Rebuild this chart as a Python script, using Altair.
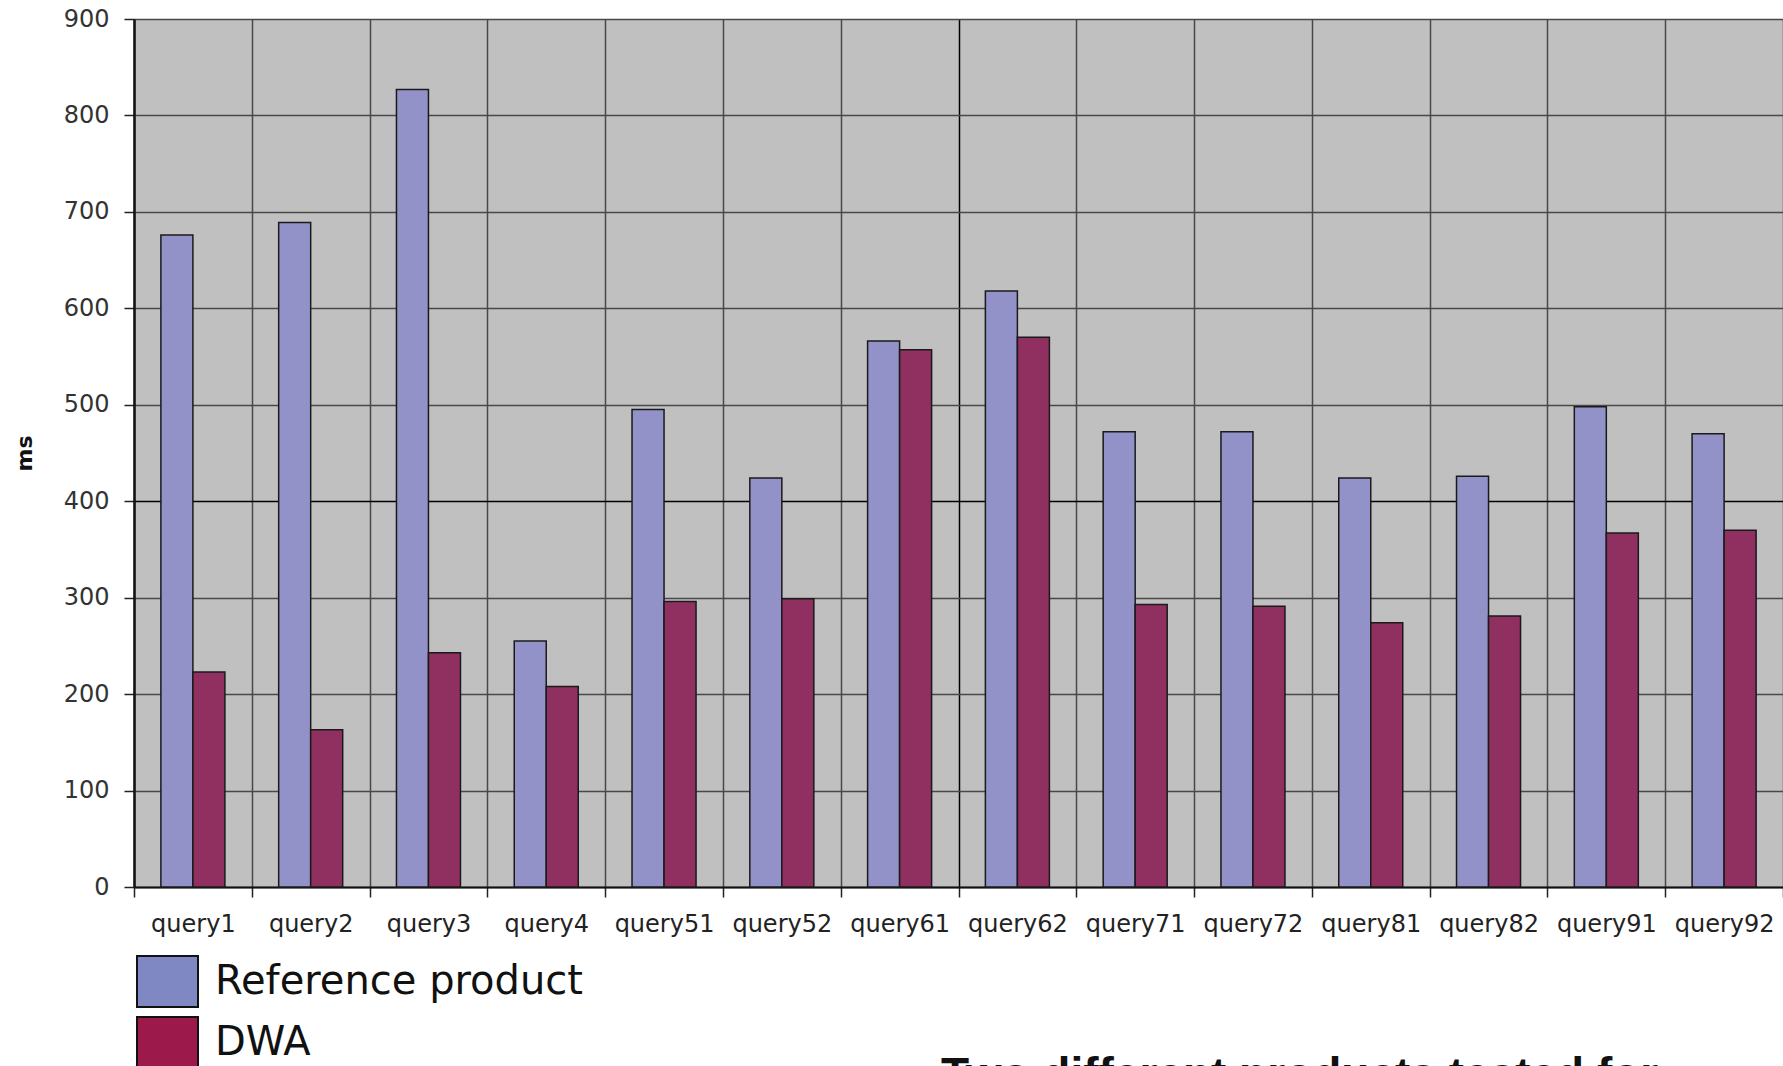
import altair as alt
import pandas as pd

queries = ["query1", "query2", "query3", "query4", "query51", "query52", "query61",
           "query62", "query71", "query72", "query81", "query82", "query91", "query92"]
reference_product = [676, 689, 827, 255, 495, 424, 566, 618, 472, 472, 424, 426, 498, 470]
dwa = [223, 163, 243, 208, 296, 299, 557, 570, 293, 291, 274, 281, 367, 370]
series = ["Reference product", "DWA"]
bar_colors = ["#9292C8", "#903060"]
legend_colors = ["#7F88C2", "#9C1A4B"]
y_ticks = [0, 100, 200, 300, 400, 500, 600, 700, 800, 900]
caption = "Two different products tested for"

rows = []
for q, a, b in zip(queries, reference_product, dwa):
    rows.append({"query": q, "series": series[0], "ms": a})
    rows.append({"query": q, "series": series[1], "ms": b})
df = pd.DataFrame(rows)

FONT = "DejaVu Sans"

x_enc = alt.X(
    "query:N",
    sort=queries,
    title=None,
    scale=alt.Scale(paddingInner=0, paddingOuter=0),
    axis=alt.Axis(
        tickBand="extent",
        labelAngle=0,
        labelFont=FONT,
        labelFontSize=24,
        labelColor="#222",
        labelPadding=15,
        tickSize=10,
        tickColor="#222",
        tickWidth=1.5,
        domainColor="#111",
        domainWidth=2,
        grid=True,
        gridColor={"condition": {"test": "datum.value === 'query61'", "value": "#000"}, "value": "#484848"},
        gridWidth=1.5,
    ),
)
y_enc = alt.Y(
    "ms:Q",
    title="ms",
    scale=alt.Scale(domain=[0, 900], nice=False),
    axis=alt.Axis(
        values=y_ticks,
        labelFont=FONT,
        labelFontSize=24,
        labelColor="#333",
        labelPadding=15,
        tickSize=10,
        tickColor="#222",
        tickWidth=1.5,
        domainColor="#111",
        domainWidth=2.5,
        grid=True,
        gridColor={"condition": {"test": "datum.value === 400", "value": "#000"}, "value": "#484848"},
        gridWidth=1.5,
        titleFont=FONT,
        titleFontSize=22,
        titleFontWeight="bold",
        titleColor="#111",
        titlePadding=27,
    ),
)

bars = alt.Chart(df).mark_bar(stroke="#1a1a1a", strokeWidth=1.5).encode(
    x=x_enc,
    y=y_enc,
    xOffset=alt.XOffset("series:N", sort=series,
                        scale=alt.Scale(domain=series, paddingInner=0, paddingOuter=0.84)),
    fill=alt.Fill("series:N", scale=alt.Scale(domain=series, range=bar_colors), legend=None),
)

legend_layer = alt.Chart(df).transform_calculate(
    label="datum.series"
).transform_filter("false").mark_bar().encode(
    x=alt.X("query:N", sort=queries),
    y=alt.Y("ms:Q"),
    color=alt.Color(
        "label:N",
        scale=alt.Scale(domain=series, range=legend_colors),
        legend=alt.Legend(
            title=None,
            orient="none",
            legendX=2,
            legendY=931,
            symbolType="M-1,-0.836H1V0.836H-1Z",
            symbolSize=3721,
            symbolStrokeColor="#111",
            symbolStrokeWidth=2,
            symbolOpacity=1,
            labelFont=FONT,
            labelFontSize=40,
            labelColor="#111",
            labelOffset=16,
            rowPadding=-6,
            labelLimit=800,
        ),
    ),
)

cap = alt.Chart(pd.DataFrame({"t": [caption]})).mark_text(
    align="left", baseline="alphabetic", font="Liberation Sans", fontSize=46,
    fontWeight="bold", color="#111"
).encode(x=alt.value(807), y=alt.value(1071), text="t:N")

chart = alt.layer(bars, legend_layer, cap).resolve_scale(
    color="independent", fill="independent"
).resolve_legend(color="independent", fill="independent").properties(
    width=1649,
    height=868,
    autosize="none",
    padding={"left": 134, "top": 19, "right": 0, "bottom": 179},
).configure_view(fill="#C0C0C0", strokeOpacity=0)

chart.save("out.html", embed_options={"renderer": "svg", "actions": False})
